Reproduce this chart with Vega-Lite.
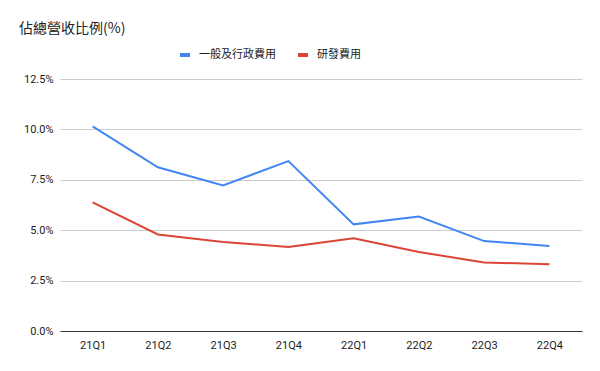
{
  "$schema": "https://vega.github.io/schema/vega-lite/v6.json",
  "width": 522,
  "height": 252,
  "autosize": {"type": "none"},
  "padding": {"left": 60, "top": 79, "right": 18, "bottom": 40},
  "background": "white",
  "title": {
    "text": "佔總營收比例(%)",
    "anchor": "start",
    "frame": "group",
    "dx": -41,
    "offset": 12,
    "font": "Noto Sans CJK TC",
    "fontSize": 14,
    "fontWeight": "normal",
    "color": "#222222"
  },
  "data": {
    "values": [
      {"q": "21Q1", "s": "一般及行政費用", "v": 0.1015},
      {"q": "21Q2", "s": "一般及行政費用", "v": 0.0812},
      {"q": "21Q3", "s": "一般及行政費用", "v": 0.0722},
      {"q": "21Q4", "s": "一般及行政費用", "v": 0.0843},
      {"q": "22Q1", "s": "一般及行政費用", "v": 0.0529},
      {"q": "22Q2", "s": "一般及行政費用", "v": 0.0568},
      {"q": "22Q3", "s": "一般及行政費用", "v": 0.0446},
      {"q": "22Q4", "s": "一般及行政費用", "v": 0.0422},
      {"q": "21Q1", "s": "研發費用", "v": 0.0638},
      {"q": "21Q2", "s": "研發費用", "v": 0.0479},
      {"q": "21Q3", "s": "研發費用", "v": 0.0442},
      {"q": "21Q4", "s": "研發費用", "v": 0.0417},
      {"q": "22Q1", "s": "研發費用", "v": 0.0460},
      {"q": "22Q2", "s": "研發費用", "v": 0.0392},
      {"q": "22Q3", "s": "研發費用", "v": 0.0340},
      {"q": "22Q4", "s": "研發費用", "v": 0.0331}
    ]
  },
  "mark": {"type": "line", "strokeWidth": 2},
  "encoding": {
    "x": {
      "field": "q",
      "type": "ordinal",
      "scale": {"type": "point", "padding": 0.5},
      "axis": {
        "title": null,
        "labelAngle": 0,
        "ticks": false,
        "domainColor": "#333333",
        "labelFont": "Roboto",
        "labelFontSize": 11,
        "labelColor": "#222222",
        "labelPadding": 8
      }
    },
    "y": {
      "field": "v",
      "type": "quantitative",
      "scale": {"domain": [0, 0.125], "nice": false},
      "axis": {
        "title": null,
        "values": [0, 0.025, 0.05, 0.075, 0.1, 0.125],
        "format": ".1%",
        "domain": false,
        "ticks": false,
        "gridColor": "#cccccc",
        "labelFont": "Roboto",
        "labelFontSize": 11,
        "labelColor": "#222222",
        "labelPadding": 7
      }
    },
    "color": {
      "field": "s",
      "type": "nominal",
      "scale": {"domain": ["一般及行政費用", "研發費用"], "range": ["#4285F4", "#DB4437"]},
      "legend": {
        "title": null,
        "orient": "none",
        "direction": "horizontal",
        "legendX": 118,
        "legendY": -31,
        "symbolType": "stroke",
        "symbolStrokeWidth": 4,
        "symbolSize": 100,
        "labelFont": "Noto Sans CJK TC",
        "labelFontSize": 11,
        "labelColor": "#222222",
        "columnPadding": 14,
        "labelOffset": 7
      }
    }
  },
  "config": {"view": {"stroke": null}}
}
